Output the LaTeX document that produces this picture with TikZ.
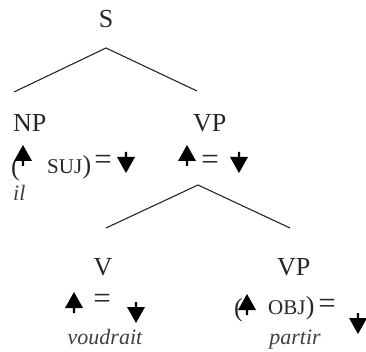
\documentclass[tikz,border=0pt]{standalone}
\usepackage{fontspec}
\setmainfont{Liberation Serif}
\begin{document}
\begin{tikzpicture}[x=1pt,y=-1pt,
  lbl/.style={inner sep=0pt,font=\fontsize{26}{28}\selectfont,text=black!85},
  eqs/.style={inner sep=0pt,font=\fontsize{31}{32}\selectfont,text=black!85},
  sc/.style={inner sep=0pt,font=\fontsize{21}{22}\selectfont,text=black!85},
  wd/.style={inner sep=0pt,font=\fontsize{22}{24}\selectfont\itshape,text=black!75},
  branch/.style={draw=black!85,line width=1.1pt},
  uparr/.pic={\fill[black] (0,0) -- (9,16) -- (1.1,16) -- (1.1,21) -- (-1.1,21) -- (-1.1,16) -- (-9,16) -- cycle;},
  dnarr/.pic={\fill[black] (0,21) -- (9,5) -- (1.1,5) -- (1.1,0) -- (-1.1,0) -- (-1.1,5) -- (-9,5) -- cycle;}
]
\useasboundingbox (0,0) rectangle (366,352);
% S
\node[lbl,anchor=base] (S) at (106,28) {S};
\coordinate (sa) at (106,48);
\coordinate (sl) at (14,92);
\coordinate (sr) at (197,91);
\draw[branch] (sl) -- (sa) -- (sr);
% NP
\node[lbl,anchor=base west] (NP) at (13,132) {NP};
\node[lbl,anchor=base west] (np-lp) at (11,176) {(};
\pic at (23,145) {uparr};
\node[sc,anchor=base west] (np-suj) at (47,174) {SUJ};
\node[lbl,anchor=base west] (np-rp) at (np-suj.base east) {)};
\node[eqs,anchor=center] (np-eq) at (103,162) {=};
\pic at (126,152) {dnarr};
\node[wd,anchor=base west] (il) at (13,201) {il};
% VP
\node[lbl,anchor=base west] (VP) at (193,132) {VP};
\pic at (187,145) {uparr};
\node[eqs,anchor=center] (vp-eq) at (210,162) {=};
\pic at (239,152) {dnarr};
\coordinate (va) at (198,185);
\coordinate (vl) at (106,228);
\coordinate (vr) at (290,228);
\draw[branch] (vl) -- (va) -- (vr);
% V
\node[lbl,anchor=base] (V) at (103,275) {V};
\pic at (74,292) {uparr};
\node[eqs,anchor=center] (v-eq) at (102,301) {=};
\pic at (136,302) {dnarr};
\node[wd,anchor=base] (voudrait) at (105,344) {voudrait};
% VP2
\node[lbl,anchor=base west] (VP2) at (277,275) {VP};
\node[lbl,anchor=base west] (vp2-lp) at (234,316) {(};
\pic at (247,294) {uparr};
\node[sc,anchor=base west] (vp2-obj) at (268,314) {OBJ};
\node[lbl,anchor=base west] (vp2-rp) at (vp2-obj.base east) {)};
\node[eqs,anchor=center] (vp2-eq) at (327,306) {=};
\pic at (358,313) {dnarr};
\node[wd,anchor=base] (partir) at (295,344) {partir};
\end{tikzpicture}
\end{document}
